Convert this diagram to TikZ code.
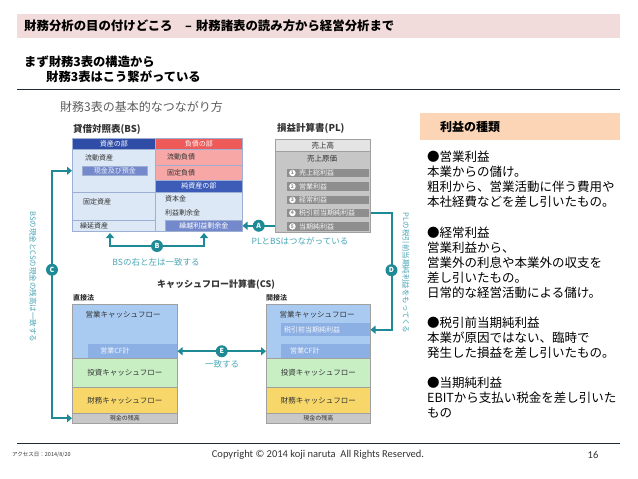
\documentclass[tikz,border=0pt]{standalone}
\usepackage{fontspec}
\setmainfont{Noto Sans CJK JP}
\newfontfamily\latinfont{Carlito}
\usetikzlibrary{arrows.meta,positioning}

\definecolor{hdrpink}{HTML}{F2DCDB}
\definecolor{hdrline}{HTML}{1F2B3A}
\definecolor{tabpeach}{HTML}{FBD5B5}
\definecolor{dgray}{HTML}{333333}
\definecolor{linkteal}{HTML}{1E8A96}
\definecolor{tealtext}{HTML}{4AA6B6}
\definecolor{bsnavy}{HTML}{2F4DA6}
\definecolor{bsred}{HTML}{EE5A57}
\definecolor{bspink}{HTML}{F6A7A6}
\definecolor{bsblue}{HTML}{3C5CB8}
\definecolor{bslight}{HTML}{DCE8F6}
\definecolor{bsmid}{HTML}{7489CC}
\definecolor{bsline}{HTML}{9DB0D3}
\definecolor{plgray}{HTML}{C6C6C6}
\definecolor{pllight}{HTML}{E4E4E4}
\definecolor{plbar}{HTML}{8E8E8E}
\definecolor{plline}{HTML}{A0A0A0}
\definecolor{cfblue}{HTML}{A9CBF2}
\definecolor{cfmid}{HTML}{8DB0E4}
\definecolor{cfgreen}{HTML}{C8EEC4}
\definecolor{cfyellow}{HTML}{F7D76A}
\definecolor{cfgray}{HTML}{C8C8C8}

\tikzset{
  txt/.style={inner sep=0pt, text=dgray, font=\fontsize{7}{8}\selectfont},
  cell/.style 2 args={anchor=north west, inner sep=0pt, minimum width=#1pt, minimum height=#2pt},
  bscell/.style 2 args={cell={#1}{#2}, draw=bsline, line width=.5pt, font=\fontsize{7}{8}\selectfont},
  cfcell/.style 2 args={cell={#1}{#2}, draw=plline, line width=.5pt, text=dgray, font=\fontsize{7.5}{8}\selectfont},
  link/.style={draw=linkteal, line width=2pt},
  tip/.style={arrows={-Triangle[length=5pt,width=8pt]}},
  both/.style={arrows={Triangle[length=5pt,width=8pt]-Triangle[length=5pt,width=8pt]}},
  circ/.style={circle, fill=linkteal, text=white, inner sep=0pt, minimum size=12pt, font=\bfseries\fontsize{7}{7}\selectfont},
  note/.style={txt, text=tealtext, font=\fontsize{8.5}{9}\selectfont}
}

\begin{document}
\begin{tikzpicture}[x=1pt, y=-1pt]
  \useasboundingbox[fill=white] (0,0) rectangle (638,479);

  % 見出し
  \node[anchor=north west, fill=hdrpink, minimum width=603pt, minimum height=24pt, text width=589pt, align=left,
        inner xsep=7pt, inner ysep=0pt, font=\bfseries\fontsize{12.4}{14}\selectfont] (title) at (17,14)
        {財務分析の目の付けどころ\hspace{1em}– 財務諸表の読み方から経営分析まで};
  \node[txt, anchor=west, text=black, font=\bfseries\fontsize{12.3}{14}\selectfont] (sub1) at (24,62) {まず財務3表の構造から};
  \node[txt, anchor=west, text=black, font=\bfseries\fontsize{12.3}{14}\selectfont] (sub2) at (46,77) {財務3表はこう繋がっている};
  \draw[hdrline, line width=1pt] (17,89) -- (620,89);
  \draw[hdrline, line width=1pt] (17,443) -- (620,443);

  % フッター
  \node[txt, anchor=west, font=\fontsize{5.5}{6}\selectfont] (access) at (12,455) {アクセス日：2014/8/20};
  \node[txt, font=\latinfont\fontsize{10.5}{12}\selectfont] (copy) at (318,455) {Copyright © 2014 koji naruta\ \ All Rights Reserved.};
  \node[txt, font=\latinfont\fontsize{10.5}{12}\selectfont] (page) at (593,455) {16};

  % 利益の種類
  \node[cell={200}{27}, fill=tabpeach] (kind) at (420,113) {};
  \node[txt, anchor=west, text=black, font=\bfseries\fontsize{12}{13}\selectfont] (kindhead) at (440,126.5) {利益の種類};
  \node[txt, anchor=north west, align=left, text=black, font=\fontsize{12.5}{15.06}\selectfont] (kindtext) at (427,151) {%
    ●営業利益\\本業からの儲け。\\粗利から、営業活動に伴う費用や\\本社経費などを差し引いたもの。\\[15.06pt]
    ●経常利益\\営業利益から、\\営業外の利息や本業外の収支を\\差し引いたもの。\\日常的な経営活動による儲け。\\[15.06pt]
    ●税引前当期純利益\\本業が原因ではない、臨時で\\発生した損益を差し引いたもの。\\[15.06pt]
    ●当期純利益\\EBITから支払い税金を差し引いた\\もの};

  % 図のタイトル
  \node[txt, anchor=west, text=dgray!80, font=\fontsize{12}{13}\selectfont] (dtitle) at (60,107) {財務3表の基本的なつながり方};

  % 貸借対照表
  \node[txt, anchor=west, font=\bfseries\fontsize{9.5}{10}\selectfont] (bslabel) at (73,129) {貸借対照表(BS)};
  \node[bscell={83}{11}, fill=bsnavy, text=white] (asset) at (72,138) {資産の部};
  \node[bscell={87}{11}, fill=bsred, text=white] (liab) at (155,138) {負債の部};
  \node[bscell={83}{43}, fill=bslight] (cur) at (72,149) {};
  \node[bscell={83}{28}, fill=bslight] (fixed) at (72,192) {};
  \node[bscell={83}{11}, fill=bslight] (defer) at (72,220) {};
  \node[bscell={87}{16}, fill=bspink] (curl) at (155,149) {};
  \node[bscell={87}{15}, fill=bspink] (fixl) at (155,165) {};
  \node[bscell={87}{12}, fill=bsblue, text=white] (net) at (155,180) {純資産の部};
  \node[bscell={87}{39}, fill=bslight] (cap) at (155,192) {};
  \node[bscell={77}{11}, fill=bsmid, text=white] (kuri) at (165,220) {繰越利益剰余金};
  \node[bscell={65}{9}, fill=bsmid, text=white!85!bsmid] (cash) at (82,166) {現金及び預金};
  \node[txt, anchor=west] (curtxt) at (85,158) {流動資産};
  \node[txt, anchor=west] (fixtxt) at (83,202) {固定資産};
  \node[txt, anchor=west] (deftxt) at (80,225.5) {繰延資産};
  \node[txt, anchor=west] (curltxt) at (167,157) {流動負債};
  \node[txt, anchor=west] (fixltxt) at (167,172.5) {固定負債};
  \node[txt, anchor=west] (captxt) at (165,199) {資本金};
  \node[txt, anchor=west] (rietxt) at (165,213) {利益剰余金};

  % 損益計算書
  \node[txt, anchor=west, font=\bfseries\fontsize{9.5}{10}\selectfont] (pllabel) at (277,128) {損益計算書(PL)};
  \node[cell={95}{93}, fill=plgray, draw=plline, line width=.5pt] (pl) at (275,139) {};
  \node[cell={95}{12}, fill=pllight, draw=plline, line width=.5pt, text=dgray, font=\fontsize{7.5}{8}\selectfont] (sales) at (275,139) {売上高};
  \node[txt, font=\fontsize{7.5}{8}\selectfont] (cogs) at (322,159) {売上原価};
  \foreach \y/\lab [count=\n] in {168.5/売上総利益, 182/営業利益, 195.5/経常利益, 208.5/税引前当期純利益, 222/当期純利益}{
    \node[cell={82}{8.5}, fill=plbar] (pl\n) at (287,\y) {};
    \node[circle, fill=white, inner sep=0pt, minimum size=6.5pt, text=plbar, font=\bfseries\fontsize{5}{5}\selectfont,
          right=2pt of pl\n.west] (num\n) {\n};
    \node[txt, text=white!92!plbar, right=3pt of num\n] (plt\n) {\lab};
  }

  % A: PL→BS
  \draw[link, tip] (kuri.east -| pl.west) -- node[circ] (A) {A} (kuri.east);
  \node[note] (atxt) at (300,241) {PLとBSはつながっている};

  % B: BSの左右
  \coordinate (bsl) at (110,233);
  \coordinate (bsr) at (204,233);
  \draw[link, both] (bsl) -- ++(0,13) -| node[circ, pos=.25] (B) {B} (bsr);
  \node[note] (btxt) at (156,262) {BSの右と左は一致する};

  % キャッシュフロー計算書
  \node[txt, anchor=west, font=\bfseries\fontsize{9}{10}\selectfont] (cslabel) at (157,285) {キャッシュフロー計算書(CS)};
  \node[txt, anchor=west, font=\bfseries\fontsize{7}{8}\selectfont] (direct) at (73,298) {直接法};
  \node[txt, anchor=west, font=\bfseries\fontsize{7}{8}\selectfont] (indirect) at (266,298) {間接法};

  % 直接法
  \node[cfcell={105}{54}, fill=cfblue] (opD) at (72,304) {};
  \node[txt, font=\fontsize{7.5}{8}\selectfont] (opDtxt) at (123,315) {営業キャッシュフロー};
  \node[cfcell={89}{14}, fill=cfmid, draw=none] (sumD) at (88,344) {};
  \node[txt, text=white!90!cfmid, font=\fontsize{7}{8}\selectfont] (sumDtxt) at (115,351) {営業CF計};
  \node[cfcell={105}{29}, fill=cfgreen] (invD) at (72,358) {投資キャッシュフロー};
  \node[cfcell={105}{26}, fill=cfyellow] (finD) at (72,387) {財務キャッシュフロー};
  \node[cfcell={105}{10}, fill=cfgray, font=\fontsize{6}{6}\selectfont] (zanD) at (72,413) {現金の残高};

  % 間接法
  \node[cfcell={104}{54}, fill=cfblue] (opI) at (266,304) {};
  \node[txt, font=\fontsize{7.5}{8}\selectfont] (opItxt) at (317,315) {営業キャッシュフロー};
  \node[cfcell={89}{13}, fill=cfmid, draw=none] (zei) at (281,323) {};
  \node[txt, text=white!90!cfmid, font=\fontsize{7}{8}\selectfont] (zeitxt) at (312,329.5) {税引前当期純利益};
  \node[cfcell={89}{14}, fill=cfmid, draw=none] (sumI) at (281,344) {};
  \node[txt, anchor=west, text=white!90!cfmid, font=\fontsize{7}{8}\selectfont] (sumItxt) at (290,351) {営業CF計};
  \node[cfcell={104}{29}, fill=cfgreen] (invI) at (266,358) {投資キャッシュフロー};
  \node[cfcell={104}{26}, fill=cfyellow] (finI) at (266,387) {財務キャッシュフロー};
  \node[cfcell={104}{10}, fill=cfgray, font=\fontsize{6}{6}\selectfont] (zanI) at (266,413) {現金の残高};

  % C: BSの現金とCSの残高
  \draw[link, both] (cur.west |- cash) -- ++(-20,0) |- node[circ, pos=.2] (C) {C} (zanD.west);
  \node[txt, rotate=-90, text=tealtext, font=\fontsize{7.5}{8}\selectfont] (ctxt) at (33,277) {BSの現金とCSの現金の残高は一致する};

  % D: 税引前当期純利益
  \draw[link, tip] (pl.east |- pl4) -- ++(21,0) |- node[circ, pos=.245] (D) {D} (zei.east);
  \node[txt, rotate=-90, text=tealtext, font=\fontsize{7.5}{8}\selectfont] (dtxt) at (406,273) {PLの税引前当期純利益をもってくる};

  % E: 営業CF計
  \draw[link, both] (sumD.east) -- node[circ] (E) {E} (sumD.east -| opI.west);
  \node[note] (etxt) at (222,364) {一致する};
\end{tikzpicture}
\end{document}
